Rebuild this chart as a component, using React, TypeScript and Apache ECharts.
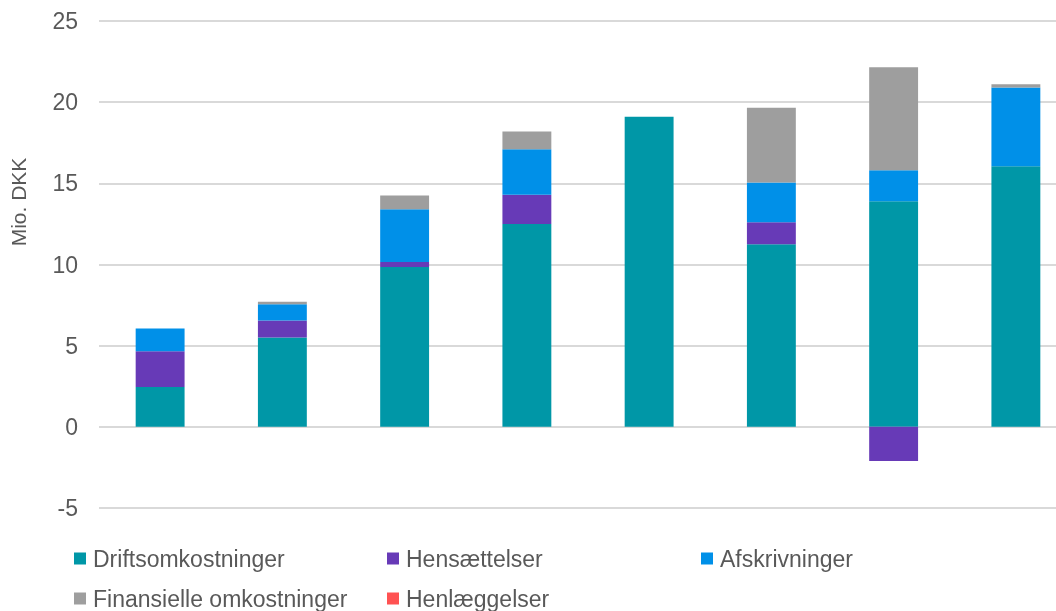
import React, { useEffect, useRef } from "react";
import * as echarts from "echarts";

const categories = ["1", "2", "3", "4", "5", "6", "7", "8"];
const driftsomkostninger = [2.45, 5.5, 9.85, 12.5, 19.1, 11.25, 13.9, 16.05];
const hensaettelser = [2.2, 1.05, 0.3, 1.8, 0, 1.35, -2.1, 0];
const afskrivninger = [1.4, 1.0, 3.25, 2.8, 0, 2.45, 1.9, 4.85];
const finansielle = [0, 0.15, 0.85, 1.1, 0, 4.6, 6.35, 0.2];
const henlaeggelser = [0, 0, 0, 0, 0, 0, 0, 0];
const yTicks = { min: -5, max: 25, interval: 5 };

const seriesDefs = [
  { name: "Driftsomkostninger", data: driftsomkostninger, color: "#0097A7" },
  { name: "Hensættelser", data: hensaettelser, color: "#673AB7" },
  { name: "Afskrivninger", data: afskrivninger, color: "#0090E8" },
  { name: "Finansielle omkostninger", data: finansielle, color: "#9E9E9E" },
  { name: "Henlæggelser", data: henlaeggelser, color: "#FF5252" },
];

const legendPos = [
  { left: 74, top: 547 },
  { left: 387, top: 547 },
  { left: 701, top: 547 },
  { left: 74, top: 587 },
  { left: 387, top: 587 },
];

export default function App() {
  const ref = useRef<HTMLDivElement>(null);
  useEffect(() => {
    if (!ref.current) return;
    const chart = echarts.init(ref.current, null, { renderer: "svg" });
    const font = "'Liberation Sans', Arial, sans-serif";
    chart.setOption({
      animation: false,
      textStyle: { fontFamily: font },
      grid: { left: 99, top: 21, width: 978, height: 487, containLabel: false },
      xAxis: {
        type: "category",
        data: categories,
        axisLine: { show: false },
        axisTick: { show: false },
        axisLabel: { show: false },
        splitLine: { show: false },
      },
      yAxis: {
        type: "value",
        min: yTicks.min,
        max: yTicks.max,
        interval: yTicks.interval,
        axisLine: { show: false },
        axisTick: { show: false },
        axisLabel: { color: "#595959", fontSize: 23, margin: 21, fontFamily: font },
        splitLine: { lineStyle: { color: "#d9d9d9", width: 2 } },
      },
      legend: seriesDefs.map((s, i) => ({
        data: [s.name],
        left: legendPos[i].left,
        top: legendPos[i].top,
        padding: 0,
        itemWidth: 12,
        itemHeight: 12,
        icon: "rect",
        selectedMode: false,
        textStyle: { color: "#595959", fontSize: 23, fontFamily: font, padding: [0, 0, 0, 2] },
      })),
      graphic: [
        {
          type: "text",
          x: 18,
          y: 202,
          rotation: Math.PI / 2,
          style: {
            text: "Mio. DKK",
            fill: "#595959",
            font: `21px ${font}`,
            align: "center",
            verticalAlign: "middle",
          },
        },
      ],
      series: seriesDefs.map((s) => ({
        name: s.name,
        type: "bar",
        stack: "total",
        data: s.data,
        barWidth: "40%",
        itemStyle: { color: s.color },
      })),
    });
    return () => chart.dispose();
  }, []);
  return (
    <div style={{ position: "fixed", left: 0, top: 0, width: 1056, height: 611, overflow: "hidden" }}>
      <div ref={ref} style={{ position: "absolute", left: 0, top: 0, width: 1080, height: 611 }} />
    </div>
  );
}
